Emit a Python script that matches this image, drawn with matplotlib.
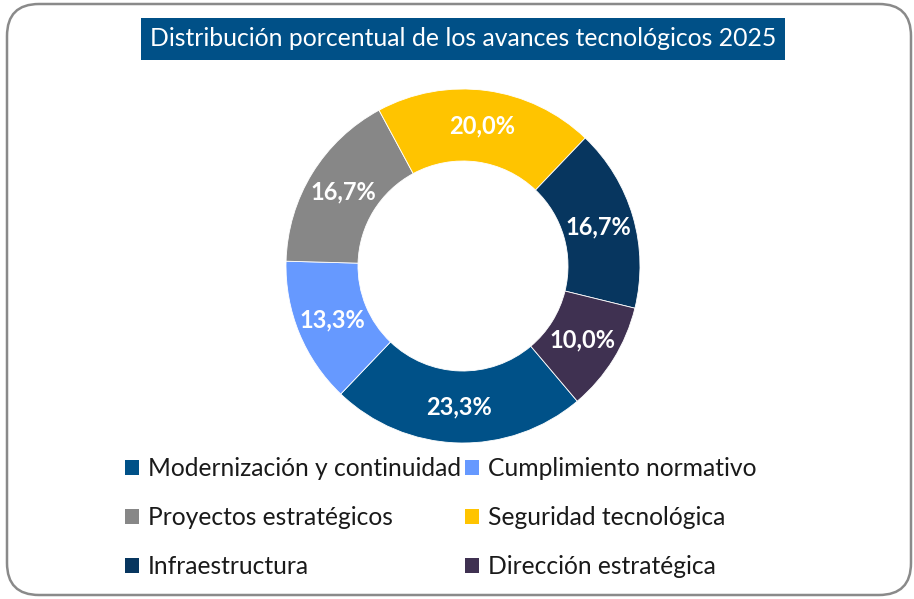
import matplotlib
matplotlib.use("Agg")
import matplotlib.pyplot as plt
from matplotlib.patches import FancyBboxPatch, Patch

categories = ["Modernización y continuidad", "Cumplimiento normativo",
              "Proyectos estratégicos", "Seguridad tecnológica",
              "Infraestructura", "Dirección estratégica"]
values = [23.3, 13.3, 16.7, 20.0, 16.7, 10.0]
colors = ["#005188", "#6699FF", "#878787", "#FFC400", "#07365F", "#3F3151"]
title = "Distribución porcentual de los avances tecnológicos 2025"

FONT = "Lato"
W, H = 914, 599
fig = plt.figure(figsize=(W / 100, H / 100), dpi=100)
fig.patch.set_facecolor("white")

# outer rounded border
border = FancyBboxPatch((7 / W, 4 / H), (W - 10) / W, (H - 8) / H,
                        boxstyle="round,pad=0,rounding_size=0.035",
                        transform=fig.transFigure, facecolor="none",
                        edgecolor="#8a8a8a", linewidth=1.8, mutation_aspect=W / H)
fig.add_artist(border)

# title box
tb = FancyBboxPatch((141 / W, 1 - 60 / H), (785 - 141) / W, 42 / H,
                    boxstyle="square,pad=0", transform=fig.transFigure,
                    facecolor="#005087", edgecolor="none")
fig.add_artist(tb)
fig.text(463 / W, 1 - 39 / H, title, ha="center", va="center", color="white",
         fontsize=17.8, family=FONT)

# donut
cx, cy, R = 463, 266, 177
half = 1.2 * R
ax = fig.add_axes([(cx - half) / W, (H - cy - half) / H, 2 * half / W, 2 * half / H])
wedges, texts = ax.pie(values, colors=colors, startangle=90 - 139.8, counterclock=False,
                       radius=1.0, wedgeprops=dict(width=72 / 177, edgecolor="white", linewidth=0.6),
                       labels=[f"{v:.1f}%".replace(".", ",") for v in values],
                       labeldistance=(177 + 105) / 2 / 177,
                       textprops=dict(color="white", fontsize=17, fontweight="bold", family=FONT))
for t in texts:
    t.set_ha("center")
    t.set_va("center")
ax.set_xlim(-1.2, 1.2)
ax.set_ylim(-1.2, 1.2)
ax.set_aspect("equal")
ax.axis("off")

# legend
order = [0, 2, 4, 1, 3, 5]
handles = [Patch(facecolor=colors[i], edgecolor="none") for i in order]
labels = [categories[i] for i in order]
leg = fig.legend(handles, labels, ncol=2, loc="upper left",
                 bbox_to_anchor=(103 / W, 1 - 435 / H), frameon=False,
                 prop=dict(family=FONT, size=17.75), handlelength=0.58, handleheight=0.58,
                 handletextpad=0.35, columnspacing=0.15, labelspacing=1.06)
for t in leg.get_texts():
    t.set_color("#1a1a1a")

fig.savefig("out.png", dpi=100)
